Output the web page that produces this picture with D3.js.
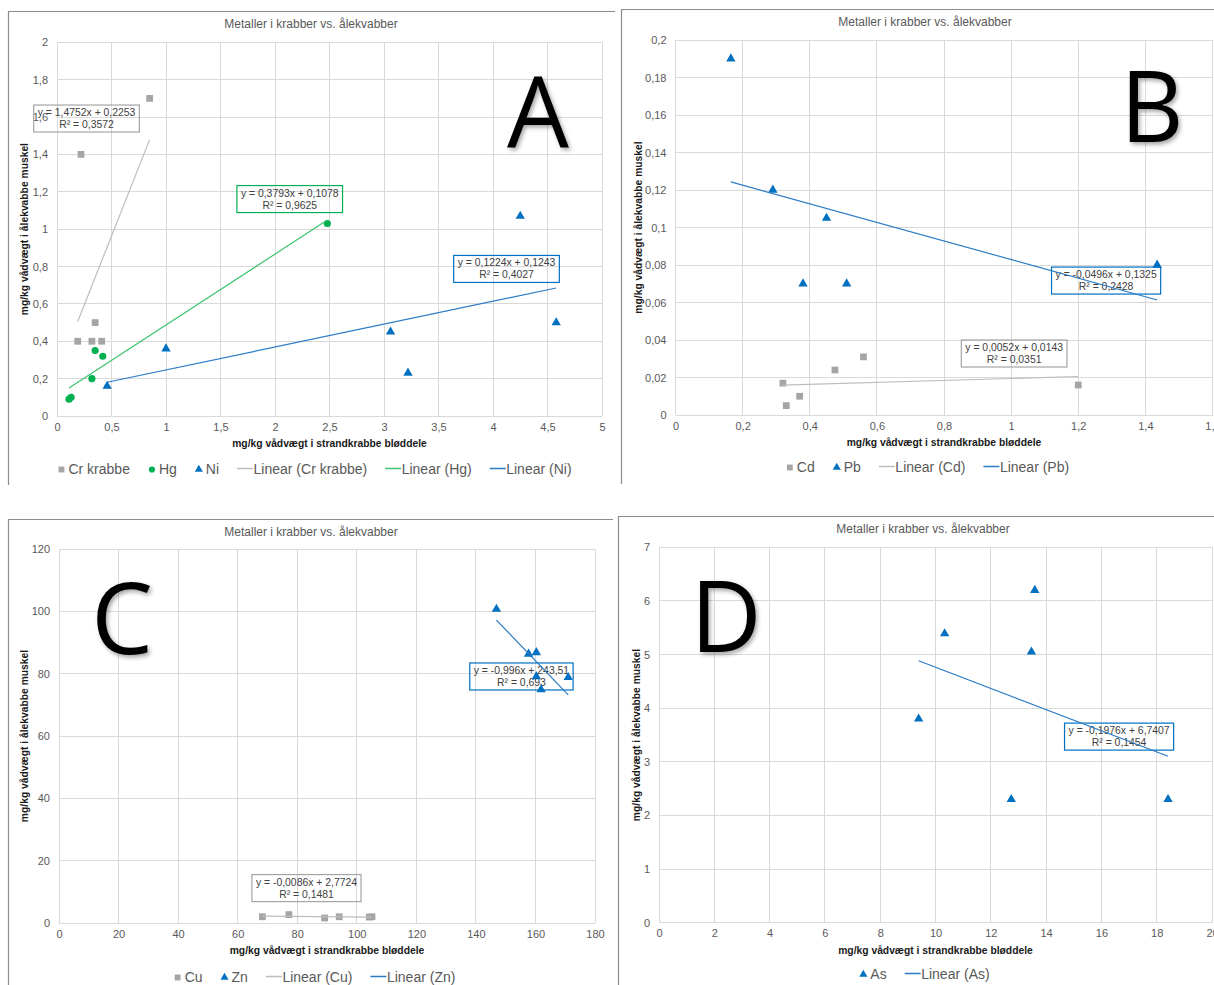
<!DOCTYPE html>
<html>
<head>
<meta charset="utf-8">
<script src="https://cdn.jsdelivr.net/npm/d3@7"></script>
<style>
  body { margin: 0; background: #fff; overflow: hidden; }
  svg { display: block; }
</style>
</head>
<body>
<div id="chart"></div>
<script>
const FONT = '"Liberation Sans", Arial, sans-serif';
const TITLE = 'Metaller i krabber vs. ålekvabber';
const X_TITLE = 'mg/kg vådvægt i strandkrabbe bløddele';
const Y_TITLE = 'mg/kg vådvægt i ålekvabbe muskel';

// --- panel A: Cr, Hg, Ni
const crX = [0.19, 0.22, 0.32, 0.35, 0.41, 0.85];
const crY = [0.40, 1.40, 0.40, 0.50, 0.40, 1.70];
const hgX = [0.11, 0.13, 0.32, 0.35, 0.42, 2.48];
const hgY = [0.09, 0.10, 0.20, 0.35, 0.32, 1.03];
const niX = [0.46, 1.00, 3.06, 3.22, 4.25, 4.58];
const niY = [0.16, 0.36, 0.45, 0.23, 1.07, 0.50];
const aXTicks = [0, 0.5, 1, 1.5, 2, 2.5, 3, 3.5, 4, 4.5, 5];
const aYTicks = [0, 0.2, 0.4, 0.6, 0.8, 1, 1.2, 1.4, 1.6, 1.8, 2];

// --- panel B: Cd, Pb
const cdX = [0.32, 0.33, 0.37, 0.475, 0.56, 1.20];
const cdY = [0.017, 0.005, 0.010, 0.024, 0.031, 0.016];
const pbX = [0.165, 0.29, 0.38, 0.45, 0.51, 1.435];
const pbY = [0.19, 0.12, 0.07, 0.105, 0.07, 0.08];
const bXTicks = [0, 0.2, 0.4, 0.6, 0.8, 1, 1.2, 1.4, 1.6];
const bYTicks = [0, 0.02, 0.04, 0.06, 0.08, 0.1, 0.12, 0.14, 0.16, 0.18, 0.2];

// --- panel C: Cu, Zn
const cuX = [68.3, 77.2, 89.2, 94.1, 104.2, 105.1];
const cuY = [2.0, 2.7, 1.6, 2.0, 1.9, 2.0];
const znX = [146.9, 157.7, 160.3, 160.3, 161.9, 171.0];
const znY = [100.7, 86.3, 86.8, 79.1, 74.9, 78.8];
const cXTicks = [0, 20, 40, 60, 80, 100, 120, 140, 160, 180];
const cYTicks = [0, 20, 40, 60, 80, 100, 120];

// --- panel D: As
const asX = [9.39, 10.33, 12.74, 13.47, 13.59, 18.41];
const asY = [3.80, 5.39, 2.30, 5.05, 6.20, 2.30];
const dXTicks = [0, 2, 4, 6, 8, 10, 12, 14, 16, 18, 20];
const dYTicks = [0, 1, 2, 3, 4, 5, 6, 7];

// linear trendlines: [slope, intercept, R²]
const trendCr = [1.4752, 0.2253, 0.3572];
const trendHg = [0.3793, 0.1078, 0.9625];
const trendNi = [0.1224, 0.1243, 0.4027];
const trendCd = [0.0052, 0.0143, 0.0351];
const trendPb = [-0.0496, 0.1325, 0.2428];
const trendCu = [-0.0086, 2.7724, 0.1481];
const trendZn = [-0.996, 243.51, 0.693];
const trendAs = [-0.1976, 6.7407, 0.1454];

const GRAY = '#a5a5a5', GREEN = '#00b050', BLUE = '#0070c0';
const LINE = { [GRAY]: '#bdbdbd', [GREEN]: '#3cc470', [BLUE]: '#2b7bc6' };

const panels = [
  { frame: [8.5, 11.5, 615, 485], xr: [57, 602], yr: [416, 42.3], xd: [0, 5], yd: [0, 2],
    xt: aXTicks, yt: aYTicks, yTitleX: 27.5, titleX: 311, letter: 'A', letterPos: [538, 147],
    series: [
      { name: 'Cr krabbe', xs: crX, ys: crY, color: GRAY, shape: 'square', trend: trendCr, box: [0.271, 1.592] },
      { name: 'Hg', xs: hgX, ys: hgY, color: GREEN, shape: 'circle', trend: trendHg, box: [2.135, 1.161] },
      { name: 'Ni', xs: niX, ys: niY, color: BLUE, shape: 'triangle', trend: trendNi, box: [4.124, 0.787] }
    ] },
  { frame: [621.5, 9.5, 1214, 484], xr: [675.5, 1212.5], yr: [415, 40], xd: [0, 1.6], yd: [0, 0.2],
    xt: bXTicks, yt: bYTicks, yTitleX: 641.5, titleX: 925, letter: 'B', letterPos: [1152, 142],
    series: [
      { name: 'Cd', xs: cdX, ys: cdY, color: GRAY, shape: 'square', trend: trendCd, box: [1.009, 0.0328] },
      { name: 'Pb', xs: pbX, ys: pbY, color: BLUE, shape: 'triangle', trend: trendPb, box: [1.283, 0.0717] }
    ] },
  { frame: [8.5, 519.5, 613, 985], xr: [59, 595], yr: [923, 549], xd: [0, 180], yd: [0, 120],
    xt: cXTicks, yt: cYTicks, yTitleX: 27.5, titleX: 311, letter: 'C', letterPos: [122, 654],
    series: [
      { name: 'Cu', xs: cuX, ys: cuY, color: GRAY, shape: 'square', trend: trendCu, box: [83.1, 11.2] },
      { name: 'Zn', xs: znX, ys: znY, color: BLUE, shape: 'triangle', trend: trendZn, box: [155.3, 79.1] }
    ] },
  { frame: [618.5, 516.5, 1214, 985], xr: [659, 1212], yr: [922.7, 547.3], xd: [0, 20], yd: [0, 7],
    xt: dXTicks, yt: dYTicks, yTitleX: 639.5, titleX: 923, letter: 'D', letterPos: [726, 652],
    series: [
      { name: 'As', xs: asX, ys: asY, color: BLUE, shape: 'triangle', trend: trendAs, box: [16.64, 3.47] }
    ] }
];

const locale = d3.formatLocale({ decimal: ',', thousands: '.', grouping: [3], currency: ['', ''] });
const tickFmt = locale.format('~g');
const num = v => String(v).replace('.', ',');

const symbolOf = s => s === 'square' ? d3.symbolSquare : s === 'circle' ? d3.symbolCircle : d3.symbolTriangle;
const sizeOf = s => s === 'square' ? 46 : s === 'circle' ? 40 : 38;

const svg = d3.select('#chart').append('svg').attr('width', 1214).attr('height', 985)
  .style('font-family', FONT);

svg.append('defs').append('filter').attr('id', 'shadow')
  .attr('x', '-20%').attr('y', '-20%').attr('width', '150%').attr('height', '150%')
  .append('feDropShadow').attr('dx', 2).attr('dy', 2.5).attr('stdDeviation', 2)
  .attr('flood-color', '#000').attr('flood-opacity', 0.35);

panels.forEach(drawPanel);

function drawPanel(p) {
  const g = svg.append('g');
  const x = d3.scaleLinear().domain(p.xd).range(p.xr);
  const y = d3.scaleLinear().domain(p.yd).range(p.yr);
  const [fx, fy, fx2, fy2] = p.frame;

  // chart frame (only left/top edges are visible in the screenshot)
  g.append('path').attr('d', `M${fx},${fy2}V${fy}H${fx2}`)
    .attr('fill', 'none').attr('stroke', '#8c8c8c').attr('stroke-width', 1.2);

  // gridlines
  const grid = g.append('g').attr('stroke', '#d9d9d9').attr('stroke-width', 1).attr('shape-rendering', 'crispEdges');
  grid.selectAll('.gx').data(p.xt).join('line')
    .attr('x1', d => x(d)).attr('x2', d => x(d)).attr('y1', p.yr[0]).attr('y2', p.yr[1]);
  grid.selectAll('.gy').data(p.yt).join('line')
    .attr('y1', d => y(d)).attr('y2', d => y(d)).attr('x1', p.xr[0]).attr('x2', p.xr[1]);

  // axes
  g.append('g').attr('transform', `translate(0,${p.yr[0]})`)
    .call(d3.axisBottom(x).tickValues(p.xt).tickFormat(tickFmt).tickSize(0).tickPadding(7))
    .call(a => a.select('.domain').remove())
    .attr('font-size', 11).attr('font-family', FONT).attr('color', '#595959');
  g.append('g').attr('transform', `translate(${p.xr[0]},0)`)
    .call(d3.axisLeft(y).tickValues(p.yt).tickFormat(tickFmt).tickSize(0).tickPadding(9))
    .call(a => a.select('.domain').remove())
    .attr('font-size', 11).attr('font-family', FONT).attr('color', '#595959');

  // titles
  g.append('text').attr('x', p.titleX).attr('y', fy + 16.5).attr('text-anchor', 'middle')
    .attr('font-size', 12).attr('fill', '#595959').text(TITLE);
  g.append('text').attr('x', (p.xr[0] + p.xr[1]) / 2).attr('y', p.yr[0] + 31)
    .attr('text-anchor', 'middle').attr('font-size', 10.3).attr('font-weight', 'bold')
    .attr('fill', '#1a1a1a').text(X_TITLE);
  const ym = (p.yr[0] + p.yr[1]) / 2;
  g.append('text').attr('transform', `translate(${p.yTitleX},${ym}) rotate(-90)`)
    .attr('text-anchor', 'middle').attr('font-size', 10.3).attr('font-weight', 'bold')
    .attr('fill', '#1a1a1a').text(Y_TITLE);

  // trendline labels
  p.series.forEach(s => {
    const [a, b, r2] = s.trend;
    const lines = [`y = ${num(a)}x + ${num(b)}`, `R² = ${num(r2)}`];
    const lb = g.append('g').attr('transform', `translate(${x(s.box[0])},${y(s.box[1])})`);
    const rect = lb.append('rect');
    const ts = lines.map((t, i) => lb.append('text').attr('x', 0).attr('y', -2.5 + i * 12)
      .attr('text-anchor', 'middle').attr('font-size', 10.4).attr('fill', '#404040').text(t));
    const w = d3.max(ts, t => t.node().getComputedTextLength()) + 8;
    rect.attr('x', -w / 2).attr('y', -13.5).attr('width', w).attr('height', 27)
      .attr('fill', 'none').attr('stroke', s.color).attr('stroke-width', 1.2);
  });

  // markers
  p.series.forEach(s => {
    g.append('g').selectAll('path').data(d3.zip(s.xs, s.ys)).join('path')
      .attr('transform', d => `translate(${x(d[0])},${y(d[1])})`)
      .attr('d', d3.symbol(symbolOf(s.shape), sizeOf(s.shape)))
      .attr('fill', s.color);
  });

  // trendlines over the x-range of each series
  p.series.forEach(s => {
    const [a, b] = s.trend;
    const ext = d3.extent(s.xs);
    g.append('path').datum(ext.map(v => [v, a * v + b]))
      .attr('d', d3.line().x(d => x(d[0])).y(d => y(d[1])))
      .attr('fill', 'none').attr('stroke', LINE[s.color]).attr('stroke-width', 1.2);
  });

  // legend
  const items = p.series.map(s => ({ label: s.name, color: s.color, shape: s.shape }))
    .concat(p.series.map(s => ({ label: `Linear (${s.name})`, color: LINE[s.color], line: true })));
  const lg = g.append('g');
  const gap = 18;
  let cx = 0;
  items.forEach(it => {
    const ig = lg.append('g').attr('transform', `translate(${cx},0)`);
    let tx;
    if (it.line) {
      ig.append('line').attr('x1', 0).attr('x2', 16).attr('stroke', it.color).attr('stroke-width', 1.5);
      tx = 16.5;
    } else {
      ig.append('path').attr('transform', 'translate(4,1)')
        .attr('d', d3.symbol(symbolOf(it.shape), sizeOf(it.shape) * 0.75)).attr('fill', it.color);
      tx = 11;
    }
    const t = ig.append('text').attr('x', tx).attr('y', 5).attr('font-size', 14)
      .attr('fill', '#595959').text(it.label);
    cx += tx + t.node().getComputedTextLength() + gap;
  });
  lg.attr('transform', `translate(${fx + 306 - (cx - gap) / 2},${fy + 457})`);

  // panel letter
  g.append('text').attr('x', p.letterPos[0]).attr('y', p.letterPos[1]).attr('text-anchor', 'middle')
    .attr('font-size', 98).attr('font-family', '"Open Sans", "Liberation Sans", Arial, sans-serif')
    .attr('fill', '#000').attr('filter', 'url(#shadow)').text(p.letter);
}
</script>
</body>
</html>
